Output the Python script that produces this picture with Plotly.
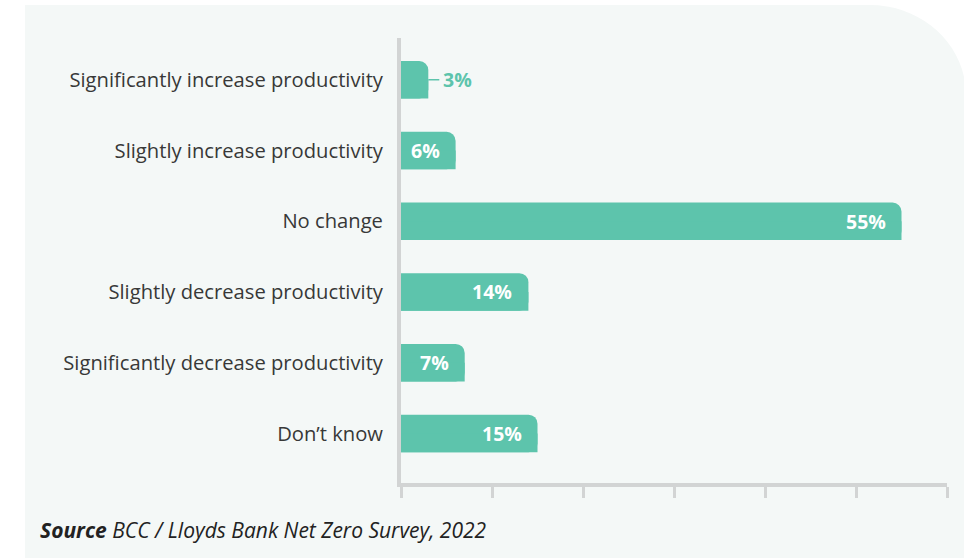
import plotly.graph_objects as go

categories = [
    "Significantly increase productivity",
    "Slightly increase productivity",
    "No change",
    "Slightly decrease productivity",
    "Significantly decrease productivity",
    "Don’t know",
]
values = [3, 6, 55, 14, 7, 15]
labels = [f"{v}%" for v in values]

TEAL = "#5dc4ac"
AXIS = "#d2d4d4"
PANEL = "#f4f8f7"
TEXT = "#383838"
FONT = "Open Sans"

W, H = 964, 558
L, R, T, B = 401, 17, 38, 75
pw, ph = W - L - R, H - T - B

def px2paper(x, y):
    return (x - L) / pw, (H - B - y) / ph

fig = go.Figure()
fig.add_trace(go.Bar(
    x=values, y=categories, orientation="h", width=0.53,
    marker=dict(color=TEAL, cornerradius=9, line=dict(width=0)),
    hoverinfo="skip",
))
# square off bottom-right corner
fig.add_trace(go.Bar(
    x=values, y=categories, orientation="h", width=0.265, offset=0,
    marker=dict(color=TEAL, line=dict(width=0)),
    hoverinfo="skip",
))

annotations = []
shapes = []
# background panel with rounded top-right corner
x0, y0 = px2paper(25, 5)
xc, _ = px2paper(870, 5)
x1, y1 = px2paper(966, 95)
_, yb = px2paper(25, 560)
xe, _ = px2paper(966, 5)
shapes.append(dict(
    type="path", xref="paper", yref="paper", layer="below",
    path=f"M {x0},{yb} L {x0},{y0} L {xc},{y0} C {xc + (xe-xc)*0.55},{y0} {xe},{y0 - (y0-y1)*0.45} {x1},{y1} L {x1},{yb} Z",
    fillcolor=PANEL, line=dict(width=0),
))

for c, v, lab in zip(categories, values, labels):
    if v >= 5:
        annotations.append(dict(
            x=v, y=c, xref="x", yref="y", text=f"<b>{lab}</b>", showarrow=False,
            xanchor="right", xshift=-14, font=dict(family=FONT, size=19.5, color="white"),
        ))
    else:
        annotations.append(dict(
            x=v, y=c, xref="x", yref="y", text=f"<b>{lab}</b>", showarrow=False,
            xanchor="left", xshift=13, font=dict(family=FONT, size=19.5, color=TEAL),
        ))
        shapes.append(dict(
            type="line", xref="x", yref="y", xsizemode="pixel", xanchor=v,
            x0=0, x1=11, y0=categories.index(c), y1=categories.index(c),
            line=dict(color=TEAL, width=1.5),
        ))

sx, sy = px2paper(38, 530)
annotations.append(dict(
    x=sx, y=sy, xref="paper", yref="paper", xanchor="left", yanchor="middle",
    text="<b><i>Source</i></b><i> BCC / Lloyds Bank Net Zero Survey, 2022</i>",
    showarrow=False, font=dict(family=FONT, size=21, color="#222222"),
))

fig.update_layout(
    width=W, height=H,
    margin=dict(l=L, r=R, t=T, b=B),
    paper_bgcolor="white",
    plot_bgcolor="rgba(0,0,0,0)",
    barmode="overlay",
    showlegend=False,
    shapes=shapes,
    annotations=annotations,
    font=dict(family=FONT, size=20, color=TEXT),
    xaxis=dict(
        range=[0, 60], tickvals=[0, 10, 20, 30, 40, 50, 60], showticklabels=False,
        ticks="outside", ticklen=11, tickwidth=3, tickcolor=AXIS,
        showline=True, linecolor=AXIS, linewidth=4, showgrid=False, zeroline=False,
        fixedrange=True,
    ),
    yaxis=dict(
        type="category", categoryorder="array", categoryarray=categories,
        range=[5.7, -0.59], showline=True, linecolor=AXIS, linewidth=4,
        showgrid=False, zeroline=False, ticks="", ticklabelstandoff=10,
        tickfont=dict(family=FONT, size=20.2, color=TEXT), fixedrange=True,
    ),
)

fig.write_html("out.html")
